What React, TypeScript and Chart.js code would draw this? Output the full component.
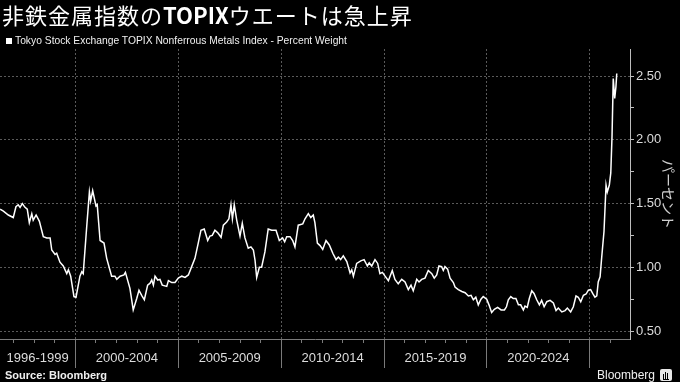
import React, { useEffect, useRef } from 'react';
import { Chart, registerables } from 'chart.js';

Chart.register(...registerables);

// ---- data ----
const years = [
  1996.34, 1996.50, 1996.74, 1996.98, 1997.11, 1997.22, 1997.31, 1997.42, 1997.55, 1997.66,
  1997.76, 1997.88, 1997.95, 1998.09, 1998.25, 1998.44, 1998.61, 1998.77, 1998.85, 1999.01,
  1999.09, 1999.25, 1999.41, 1999.58, 1999.66, 1999.77, 1999.93, 2000.03, 2000.22, 2000.31,
  2000.38, 2000.55, 2000.68, 2000.74, 2000.84, 2001.00, 2001.06, 2001.20, 2001.39, 2001.52,
  2001.76, 2001.92, 2002.01, 2002.17, 2002.36, 2002.43, 2002.65, 2002.81, 2002.98, 2003.09,
  2003.22, 2003.35, 2003.51, 2003.63, 2003.71, 2003.79, 2003.87, 2004.00, 2004.11, 2004.22,
  2004.44, 2004.52, 2004.68, 2004.84, 2005.00, 2005.17, 2005.33, 2005.49, 2005.65, 2005.81,
  2005.97, 2006.10, 2006.26, 2006.43, 2006.54, 2006.65, 2006.78, 2006.92, 2007.08, 2007.19,
  2007.35, 2007.46, 2007.56, 2007.63, 2007.72, 2007.84, 2008.00, 2008.11, 2008.24, 2008.40,
  2008.53, 2008.65, 2008.73, 2008.81, 2008.94, 2009.05, 2009.21, 2009.37, 2009.54, 2009.75,
  2009.91, 2010.07, 2010.17, 2010.27, 2010.43, 2010.56, 2010.67, 2010.83, 2011.05, 2011.16,
  2011.32, 2011.44, 2011.56, 2011.64, 2011.76, 2011.89, 2012.02, 2012.18, 2012.34, 2012.51,
  2012.67, 2012.78, 2012.89, 2013.02, 2013.19, 2013.35, 2013.43, 2013.51, 2013.67, 2013.87,
  2014.03, 2014.19, 2014.28, 2014.40, 2014.56, 2014.69, 2014.80, 2014.92, 2015.05, 2015.21,
  2015.40, 2015.53, 2015.69, 2015.86, 2016.02, 2016.18, 2016.31, 2016.42, 2016.59, 2016.70,
  2016.83, 2016.99, 2017.15, 2017.32, 2017.44, 2017.56, 2017.67, 2017.80, 2017.88, 2017.96,
  2018.09, 2018.21, 2018.37, 2018.45, 2018.61, 2018.78, 2018.94, 2019.10, 2019.23, 2019.34,
  2019.46, 2019.58, 2019.71, 2019.82, 2019.99, 2020.10, 2020.23, 2020.36, 2020.52, 2020.69,
  2020.85, 2020.95, 2021.04, 2021.16, 2021.28, 2021.41, 2021.53, 2021.64, 2021.77, 2021.85,
  2021.96, 2022.06, 2022.18, 2022.29, 2022.42, 2022.55, 2022.66, 2022.78, 2022.91, 2023.07,
  2023.23, 2023.36, 2023.47, 2023.64, 2023.80, 2023.91, 2024.07, 2024.20, 2024.33, 2024.44,
  2024.56, 2024.69, 2024.82, 2024.93, 2025.04, 2025.14, 2025.25, 2025.34, 2025.41, 2025.50,
  2025.58, 2025.69, 2025.79, 2025.85, 2025.95, 2026.02, 2026.08, 2026.14, 2026.21, 2026.27,
  2026.31,
];

const weights = [
  1.455, 1.44, 1.41, 1.39, 1.475, 1.49, 1.47, 1.50, 1.47, 1.455,
  1.35, 1.42, 1.37, 1.41, 1.36, 1.24, 1.23, 1.23, 1.135, 1.10,
  1.11, 1.04, 1.01, 0.95, 0.98, 0.93, 0.77, 0.765, 0.93, 0.965,
  0.95, 1.32, 1.59, 1.52, 1.60, 1.48, 1.49, 1.21, 1.19, 1.07,
  0.93, 0.93, 0.905, 0.93, 0.94, 0.96, 0.835, 0.665, 0.755, 0.82,
  0.78, 0.745, 0.86, 0.875, 0.90, 0.86, 0.93, 0.90, 0.905, 0.86,
  0.85, 0.895, 0.88, 0.88, 0.915, 0.93, 0.92, 0.94, 1.005, 1.07,
  1.19, 1.29, 1.30, 1.21, 1.245, 1.25, 1.29, 1.27, 1.235, 1.33,
  1.355, 1.38, 1.49, 1.38, 1.49, 1.37, 1.245, 1.345, 1.23, 1.15,
  1.16, 1.135, 1.055, 0.92, 1.00, 1.00, 1.12, 1.30, 1.29, 1.29,
  1.21, 1.23, 1.20, 1.24, 1.24, 1.21, 1.16, 1.33, 1.34, 1.38,
  1.42, 1.39, 1.41, 1.35, 1.19, 1.17, 1.14, 1.21, 1.175, 1.11,
  1.06, 1.08, 1.06, 1.09, 1.045, 0.955, 0.98, 0.93, 1.03, 1.05,
  1.06, 1.01, 1.035, 1.01, 1.06, 1.03, 0.95, 0.96, 0.93, 0.895,
  0.975, 0.905, 0.87, 0.905, 0.885, 0.825, 0.86, 0.815, 0.905, 0.885,
  0.905, 0.915, 0.975, 0.95, 0.915, 0.94, 1.01, 1.005, 0.975, 1.005,
  0.985, 0.915, 0.88, 0.845, 0.825, 0.81, 0.80, 0.775, 0.78, 0.745,
  0.765, 0.705, 0.75, 0.77, 0.75, 0.705, 0.645, 0.67, 0.685, 0.665,
  0.665, 0.69, 0.745, 0.77, 0.755, 0.755, 0.705, 0.705, 0.665, 0.695,
  0.685, 0.755, 0.815, 0.795, 0.745, 0.705, 0.74, 0.69, 0.73, 0.74,
  0.72, 0.66, 0.68, 0.65, 0.66, 0.68, 0.65, 0.69, 0.775, 0.765,
  0.73, 0.78, 0.79, 0.82, 0.825, 0.795, 0.765, 0.775, 0.885, 0.925,
  1.08, 1.28, 1.645, 1.59, 1.645, 1.74, 2.025, 2.48, 2.325, 2.415,
  2.52,
];

const periodLabels = ['1996-1999', '2000-2004', '2005-2009', '2010-2014', '2015-2019', '2020-2024'];
const periodStarts = [1996, 2000, 2005, 2010, 2015, 2020];
const periodEnds = [2000, 2005, 2010, 2015, 2020, 2025];
const boundaryYears = [2000, 2005, 2010, 2015, 2020, 2025];
const minorYears = [1997, 1998, 1999, 2001, 2002, 2003, 2004, 2006, 2007, 2008, 2009, 2011, 2012, 2013, 2014,
  2016, 2017, 2018, 2019, 2021, 2022, 2023, 2024, 2026];
const yTickValues = [0.5, 0.75, 1, 1.25, 1.5, 1.75, 2, 2.25, 2.5];
const yMajorValues = [0.5, 1, 1.5, 2, 2.5];

const X_MIN = 1996.335;
const X_MAX = 2026.954;
const Y_MIN = 0.4373;
const Y_MAX = 2.712;

const LABEL_FONT = "'Liberation Sans', Arial, sans-serif";
const CJK_FONT = "'Noto Sans CJK JP', sans-serif";

const key = (v: number) => v.toFixed(3);
const centers = periodStarts.map((s, i) => (Math.max(s, X_MIN) + periodEnds[i]) / 2);
const centerLabel = new Map<string, string>(centers.map((c, i) => [key(c), periodLabels[i]]));
const boundarySet = new Set(boundaryYears.map(key));
const minorSet = new Set(minorYears.map(key));
const yMajorSet = new Set(yMajorValues.map(key));

const TRANSPARENT = 'rgba(0,0,0,0)';

export default function App() {
  const canvasRef = useRef<HTMLCanvasElement | null>(null);

  useEffect(() => {
    document.body.style.margin = '0';
    document.body.style.background = '#000';
    const canvas = canvasRef.current;
    if (!canvas) return;
    const data = years.map((x, i) => ({ x, y: weights[i] }));
    const chart = new Chart(canvas, {
      type: 'line',
      data: {
        datasets: [
          {
            label: 'Tokyo Stock Exchange TOPIX Nonferrous Metals Index - Percent Weight',
            data,
            borderColor: '#ffffff',
            borderWidth: 1.5,
            pointRadius: 0,
            tension: 0,
            fill: false,
          },
        ],
      },
      options: {
        responsive: false,
        animation: false,
        devicePixelRatio: 1,
        layout: { padding: { top: 49, left: 0, right: 0, bottom: 0 } },
        plugins: {
          legend: { display: false },
          tooltip: { enabled: false },
          title: { display: false },
        },
        scales: {
          x: {
            type: 'linear',
            position: 'bottom',
            min: X_MIN,
            max: X_MAX,
            afterBuildTicks: (scale: any) => {
              const vals = [...boundaryYears, ...centers, ...minorYears].sort((a, b) => a - b);
              scale.ticks = vals.map((v) => ({ value: v }));
            },
            afterFit: (scale: any) => {
              scale.height = 43;
            },
            ticks: {
              autoSkip: false,
              maxRotation: 0,
              minRotation: 0,
              padding: -17,
              color: '#dcdcdc',
              font: { family: LABEL_FONT, size: 13 },
              callback: (value: any) => centerLabel.get(key(Number(value))) ?? '',
            },
            grid: {
              display: true,
              drawOnChartArea: true,
              drawTicks: true,
              tickLength: 29,
              lineWidth: 1,
              color: (ctx: any) => (ctx.tick && boundarySet.has(key(ctx.tick.value)) ? '#5a5a5a' : TRANSPARENT),
              tickColor: (ctx: any) => {
                if (!ctx.tick) return TRANSPARENT;
                const k = key(ctx.tick.value);
                if (boundarySet.has(k)) return '#7a7a7a';
                if (minorSet.has(k)) return '#7a7a7a';
                return TRANSPARENT;
              },
              tickWidth: 1,
              tickBorderDash: (ctx: any) => (ctx.tick && minorSet.has(key(ctx.tick.value)) ? [3, 100] : []),
            },
            border: { display: true, color: '#7a7a7a', width: 1, dash: [2, 2] },
          },
          y: {
            type: 'linear',
            position: 'right',
            min: Y_MIN,
            max: Y_MAX,
            afterBuildTicks: (scale: any) => {
              scale.ticks = yTickValues.map((v) => ({ value: v }));
            },
            afterFit: (scale: any) => {
              scale.width = 50;
            },
            ticks: {
              autoSkip: false,
              padding: 2,
              color: '#dcdcdc',
              font: { family: LABEL_FONT, size: 13 },
              callback: (value: any) => (yMajorSet.has(key(Number(value))) ? Number(value).toFixed(2) : ''),
            },
            grid: {
              display: true,
              drawOnChartArea: true,
              drawTicks: true,
              tickLength: 4,
              lineWidth: 1,
              color: (ctx: any) => (ctx.tick && yMajorSet.has(key(ctx.tick.value)) ? '#5a5a5a' : TRANSPARENT),
              tickColor: '#bdbdbd',
              tickWidth: 1,
            },
            border: { display: true, color: '#bdbdbd', width: 1, dash: [2, 2] },
            title: {
              display: true,
              text: 'パーセント',
              color: '#cfcfcf',
              font: { family: CJK_FONT, size: 14 },
              padding: { top: 3, bottom: 0 },
            },
          },
        },
      },
    } as any);
    return () => chart.destroy();
  }, []);

  return (
    <div
      style={{
        position: 'relative',
        width: 680,
        height: 382,
        background: '#000',
        overflow: 'hidden',
        color: '#fff',
      }}
    >
      <canvas
        ref={canvasRef}
        width={680}
        height={382}
        style={{ position: 'absolute', left: 0, top: 0, width: 680, height: 382 }}
      />
      <div
        style={{
          position: 'absolute',
          left: 2,
          top: 3,
          fontFamily: CJK_FONT,
          fontSize: 22,
          lineHeight: '22px',
          letterSpacing: 1,
          whiteSpace: 'nowrap',
          color: '#ffffff',
        }}
      >
        非鉄金属指数の<span style={{ fontWeight: 700, letterSpacing: 0 }}>TOPIX</span>ウエートは急上昇
      </div>
      <div
        style={{
          position: 'absolute',
          left: 6,
          top: 38,
          width: 6,
          height: 6,
          background: '#ffffff',
        }}
      />
      <div
        style={{
          position: 'absolute',
          left: 15,
          top: 34,
          fontFamily: LABEL_FONT,
          fontSize: 10.3,
          lineHeight: '14px',
          whiteSpace: 'nowrap',
          color: '#f0f0f0',
        }}
      >
        Tokyo Stock Exchange TOPIX Nonferrous Metals Index - Percent Weight
      </div>
      <div
        style={{
          position: 'absolute',
          left: 5,
          top: 369,
          fontFamily: LABEL_FONT,
          fontSize: 11,
          fontWeight: 700,
          lineHeight: '13px',
          whiteSpace: 'nowrap',
          color: '#f0f0f0',
        }}
      >
        Source: Bloomberg
      </div>
      <div
        style={{
          position: 'absolute',
          left: 597,
          top: 368,
          fontFamily: LABEL_FONT,
          fontSize: 12,
          lineHeight: '14px',
          whiteSpace: 'nowrap',
          color: '#f0f0f0',
        }}
      >
        Bloomberg
      </div>
      <div
        style={{
          position: 'absolute',
          left: 660,
          top: 369,
          width: 12,
          height: 12,
          background: '#e8e8e8',
          borderRadius: 2,
        }}
      >
        <div style={{ position: 'absolute', left: 3, top: 5, width: 1, height: 5, background: '#000' }} />
        <div style={{ position: 'absolute', left: 5, top: 3, width: 1, height: 7, background: '#000' }} />
        <div style={{ position: 'absolute', left: 7, top: 4, width: 1, height: 6, background: '#000' }} />
        <div style={{ position: 'absolute', left: 3, top: 10, width: 6, height: 1, background: '#000' }} />
      </div>
    </div>
  );
}
